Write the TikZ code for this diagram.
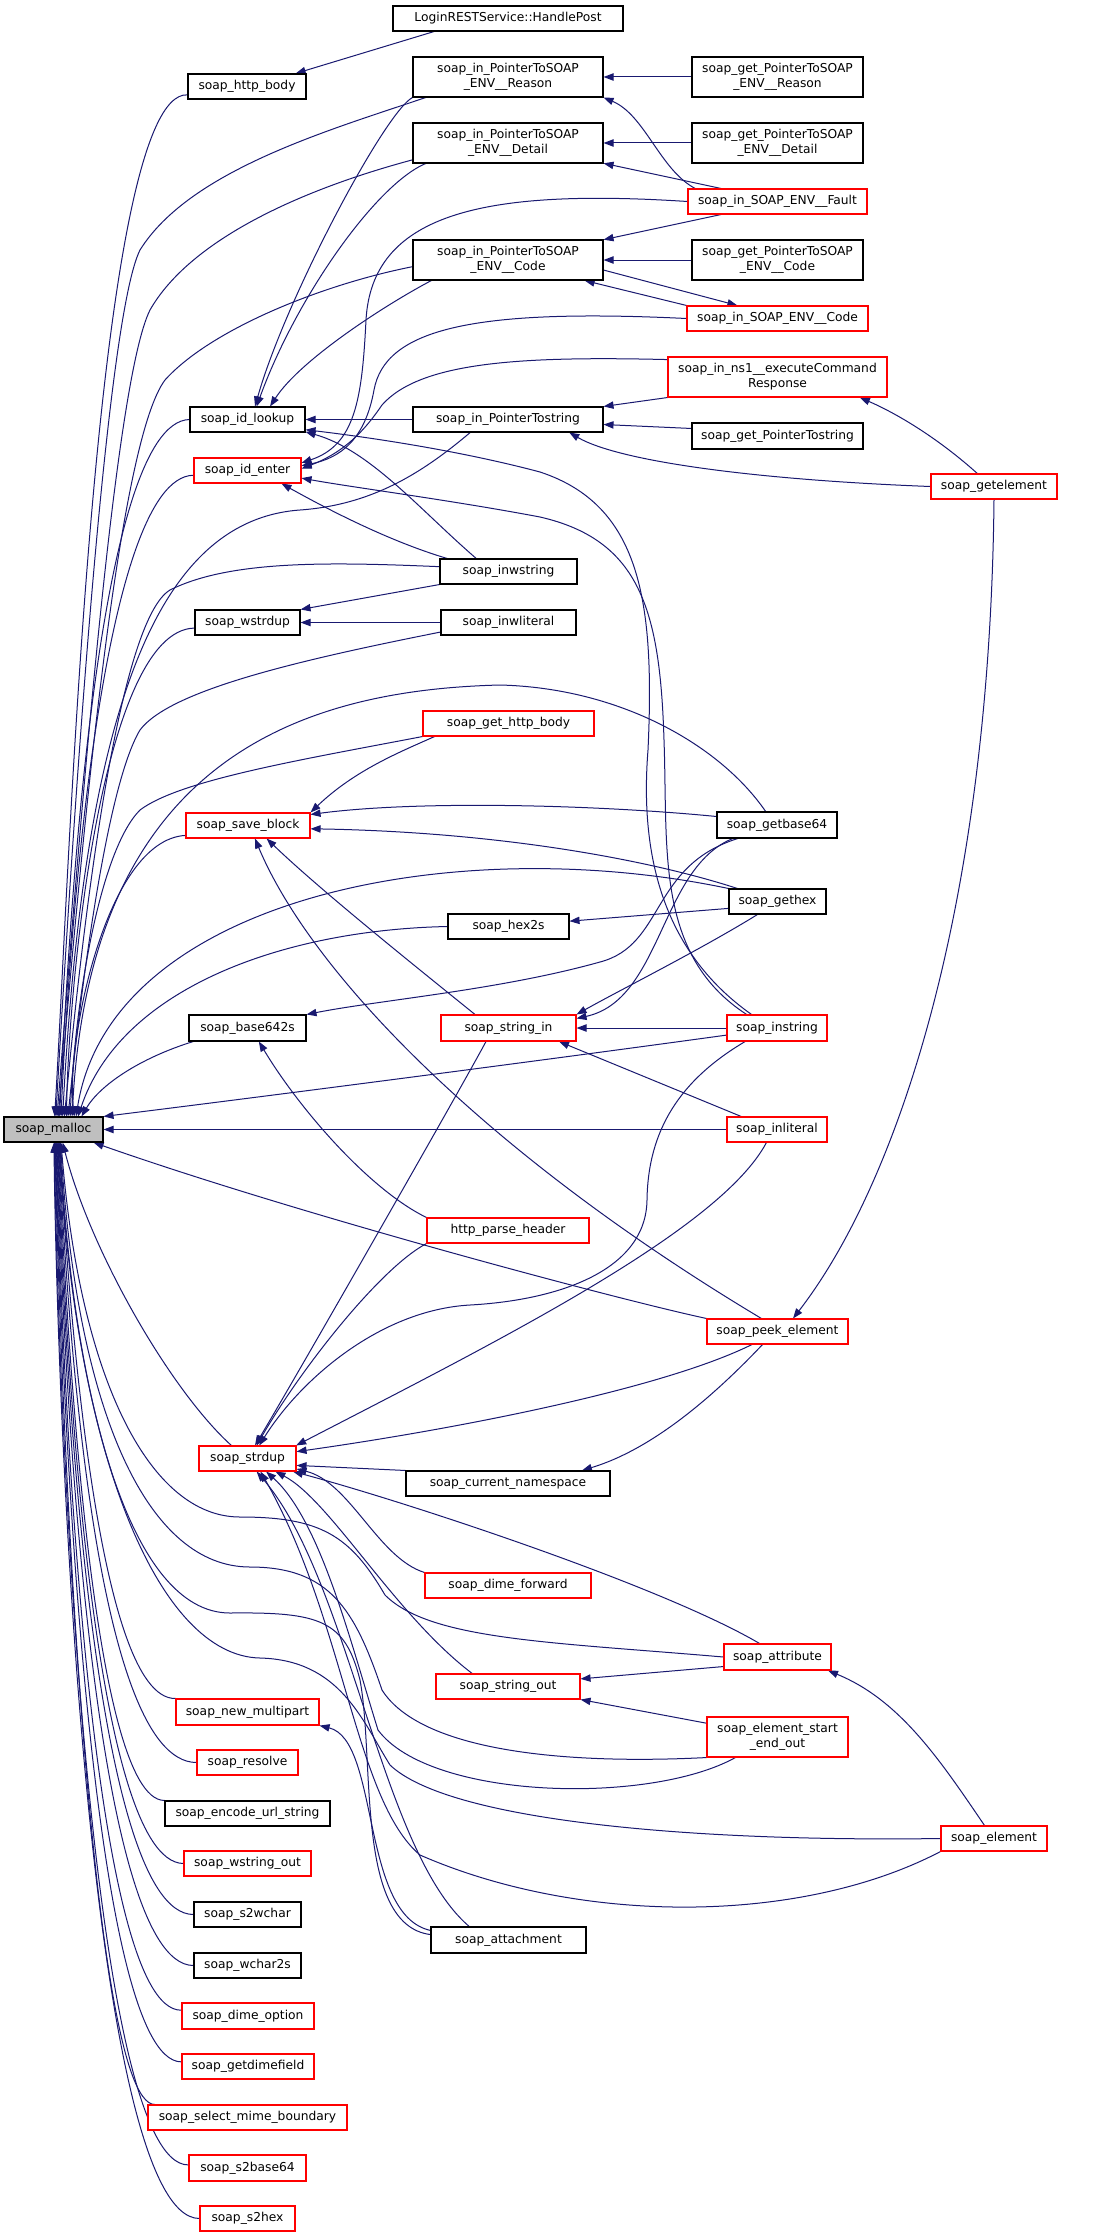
\documentclass[tikz,border=0pt]{standalone}
\usepackage{fontspec}
\setmainfont{DejaVu Sans}
\usetikzlibrary{arrows.meta}
\pgfdeclarelayer{bg}
\pgfsetlayers{bg,main}
\definecolor{edgec}{HTML}{191970}
\definecolor{nred}{HTML}{FF0000}
\definecolor{mgray}{HTML}{BFBFBF}
\tikzset{
 nb/.style={draw=black, fill=white, line width=0.8pt, inner sep=0pt, align=center, font=\fontsize{9.2}{11.25}\selectfont},
 nr/.style={nb, draw=nred},
 ng/.style={nb, fill=mgray},
 edg/.style={draw=edgec, line width=0.75pt, -{Triangle[length=7.5pt,width=5.5pt]}},
}
\newcommand\mkbox[7]{\node[#6, minimum width={(#4-#2)*0.75pt}, minimum height={(#5-#3)*0.75pt}] (#1) at ({(#2+#4)/2},{(#3+#5)/2}) {#7};}
\begin{document}
\begin{tikzpicture}[x=0.75pt,y=-0.75pt]
\begin{pgfonlayer}{bg}
\fill[white] (0,0) rectangle (1099,2237);
\end{pgfonlayer}
\path[use as bounding box] (0,0) rectangle (1099,2237);
\mkbox{hp}{393}{6}{623}{31}{nb}{LoginRESTService::HandlePost}
\mkbox{hb}{188}{74}{306}{99}{nb}{soap\_http\_body}
\mkbox{ir}{413}{57}{603}{97}{nb}{soap\_in\_PointerToSOAP\\\_ENV\_\_Reason}
\mkbox{idt}{413}{123}{603}{163}{nb}{soap\_in\_PointerToSOAP\\\_ENV\_\_Detail}
\mkbox{ic}{413}{240}{603}{280}{nb}{soap\_in\_PointerToSOAP\\\_ENV\_\_Code}
\mkbox{gr}{692}{57}{863}{97}{nb}{soap\_get\_PointerToSOAP\\\_ENV\_\_Reason}
\mkbox{gd}{692}{123}{863}{163}{nb}{soap\_get\_PointerToSOAP\\\_ENV\_\_Detail}
\mkbox{flt}{688}{189}{867}{214}{nr}{soap\_in\_SOAP\_ENV\_\_Fault}
\mkbox{gc}{692}{240}{863}{280}{nb}{soap\_get\_PointerToSOAP\\\_ENV\_\_Code}
\mkbox{isc}{687}{306}{868}{331}{nr}{soap\_in\_SOAP\_ENV\_\_Code}
\mkbox{ns1}{668}{357}{887}{397}{nr}{soap\_in\_ns1\_\_executeCommand\\Response}
\mkbox{il}{190}{407}{305}{432}{nb}{soap\_id\_lookup}
\mkbox{ie}{194}{458}{301}{483}{nr}{soap\_id\_enter}
\mkbox{ips}{413}{407}{603}{432}{nb}{soap\_in\_PointerTostring}
\mkbox{gps}{692}{423}{863}{449}{nb}{soap\_get\_PointerTostring}
\mkbox{gel}{931}{474}{1057}{499}{nr}{soap\_getelement}
\mkbox{iws}{440}{559}{577}{584}{nb}{soap\_inwstring}
\mkbox{wsd}{195}{610}{300}{635}{nb}{soap\_wstrdup}
\mkbox{iwl}{441}{610}{576}{635}{nb}{soap\_inwliteral}
\mkbox{ghb}{423}{711}{594}{736}{nr}{soap\_get\_http\_body}
\mkbox{sb}{186}{813}{310}{838}{nr}{soap\_save\_block}
\mkbox{gb64}{717}{812}{837}{838}{nb}{soap\_getbase64}
\mkbox{ghx}{729}{889}{826}{914}{nb}{soap\_gethex}
\mkbox{h2s}{448}{914}{569}{939}{nb}{soap\_hex2s}
\mkbox{b642s}{189}{1015}{306}{1041}{nb}{soap\_base642s}
\mkbox{sin}{441}{1015}{576}{1041}{nr}{soap\_string\_in}
\mkbox{ist}{727}{1015}{827}{1041}{nr}{soap\_instring}
\mkbox{M}{4}{1117}{103}{1142}{ng}{soap\_malloc}
\mkbox{ilt}{727}{1117}{827}{1142}{nr}{soap\_inliteral}
\mkbox{hph}{427}{1218}{589}{1243}{nr}{http\_parse\_header}
\mkbox{pe}{707}{1319}{848}{1344}{nr}{soap\_peek\_element}
\mkbox{sd}{199}{1446}{296}{1471}{nr}{soap\_strdup}
\mkbox{cn}{406}{1471}{610}{1496}{nb}{soap\_current\_namespace}
\mkbox{df}{425}{1573}{591}{1598}{nr}{soap\_dime\_forward}
\mkbox{att}{724}{1644}{831}{1670}{nr}{soap\_attribute}
\mkbox{so}{436}{1674}{580}{1699}{nr}{soap\_string\_out}
\mkbox{nm}{176}{1699}{319}{1725}{nr}{soap\_new\_multipart}
\mkbox{ese}{707}{1717}{848}{1757}{nr}{soap\_element\_start\\\_end\_out}
\mkbox{rs}{197}{1750}{298}{1775}{nr}{soap\_resolve}
\mkbox{eus}{165}{1801}{330}{1826}{nb}{soap\_encode\_url\_string}
\mkbox{el}{941}{1826}{1047}{1851}{nr}{soap\_element}
\mkbox{wso}{184}{1851}{311}{1876}{nr}{soap\_wstring\_out}
\mkbox{s2w}{194}{1902}{301}{1927}{nb}{soap\_s2wchar}
\mkbox{ach}{431}{1927}{586}{1953}{nb}{soap\_attachment}
\mkbox{w2s}{194}{1953}{301}{1978}{nb}{soap\_wchar2s}
\mkbox{dop}{182}{2003}{314}{2029}{nr}{soap\_dime\_option}
\mkbox{gdf}{182}{2054}{314}{2079}{nr}{soap\_getdimefield}
\mkbox{smb}{148}{2105}{347}{2130}{nr}{soap\_select\_mime\_boundary}
\mkbox{s2b}{189}{2155}{306}{2181}{nr}{soap\_s2base64}
\mkbox{s2h}{200}{2206}{295}{2231}{nr}{soap\_s2hex}
\begin{pgfonlayer}{bg}
\draw[edg] (hp.190) -- (hb.15);
\draw[edg] (gr.west) -- (ir.east);
\draw[edg] (gd.west) -- (idt.east);
\draw[edg] (gc.west) -- (ic.east);
\draw[edg] (flt.171) .. controls (660,170) and (645,115) .. (ir.south east);
\draw[edg] (flt.167) -- (idt.-12);
\draw[edg] (flt.193) -- (ic.12);
\draw[edg] (ic.-6) -- (isc.162);
\draw[edg] (isc.north west) -- (ic.-15);
\draw[edg] (flt.west) .. controls (480,188) and (372,215) .. (366,320) .. controls (362,400) and (355,445) .. (ie.8);
\draw[edg] (isc.west) .. controls (470,308) and (385,330) .. (374,390) .. controls (365,440) and (340,458) .. (ie.5);
\draw[edg] (ns1.171) .. controls (520,356) and (420,362) .. (382,405) .. controls (365,430) and (345,452) .. (ie.2);
\draw[edg] (ns1.south west) -- (ips.north east);
\draw[edg] (gps.175) -- (ips.-3);
\draw[edg] (gel.west) .. controls (760,480) and (620,462) .. (ips.-12);
\draw[edg] (gel.142) .. controls (940,440) and (900,415) .. (ns1.-14);
\draw[edg] (gel.south) .. controls (990,900) and (900,1180) .. (pe.40);
\draw[edg] (ips.west) -- (il.east);
\draw[edg] (ir.south west) .. controls (385,112) and (285,300) .. (il.60);
\draw[edg] (idt.194) .. controls (375,185) and (295,300) .. (il.55);
\draw[edg] (ic.195) .. controls (385,305) and (300,360) .. (il.30);
\draw[edg] (iws.158) .. controls (420,510) and (370,450) .. (il.-12);
\draw[edg] (iws.168) .. controls (385,540) and (320,505) .. (ie.-21);
\draw[edg] (iws.south west) -- (wsd.north east);
\draw[edg] (iwl.west) -- (wsd.east);
\draw[edg] (ist.152) .. controls (660,950) and (640,850) .. (648,750) .. controls (655,600) and (640,505) .. (540,472) .. controls (450,448) and (350,435) .. (il.-10);
\draw[edg] (ist.156) .. controls (655,955) and (668,850) .. (664,740) .. controls (660,610) and (640,540) .. (540,517) .. controls (450,500) and (350,487) .. (ie.-8);
\draw[edg] (gb64.172) .. controls (600,805) and (420,800) .. (sb.10);
\draw[edg] (ghx.162) .. controls (650,860) and (500,832) .. (sb.-3);
\draw[edg] (ghx.188) -- (h2s.5);
\draw[edg] (ghx.213) .. controls (700,950) and (620,990) .. (sin.north east);
\draw[edg] (gb64.197) .. controls (660,868) and (662,1000) .. (sin.8);
\draw[edg] (gb64.199) .. controls (650,866) and (665,945) .. (600,962) .. controls (500,990) and (380,1000) .. (b642s.north east);
\draw[edg] (ghb.190) .. controls (400,752) and (355,770) .. (sb.north east);
\draw[edg] (pe.141) .. controls (480,1150) and (310,970) .. (sb.-62);
\draw[edg] (sin.158) .. controls (420,970) and (320,890) .. (sb.-35);
\draw[edg] (sin.211) .. controls (460,1090) and (300,1370) .. (sd.60);
\draw[edg] (hph.north west) .. controls (370,1190) and (300,1110) .. (b642s.-50);
\draw[edg] (hph.south west) .. controls (380,1268) and (300,1370) .. (sd.55);
\draw[edg] (ist.203) .. controls (680,1080) and (648,1130) .. (647,1200) .. controls (646,1270) and (560,1300) .. (470,1305) .. controls (380,1310) and (300,1380) .. (sd.48);
\draw[edg] (ilt.231) .. controls (720,1230) and (500,1340) .. (sd.15);
\draw[edg] (pe.207) .. controls (660,1390) and (450,1430) .. (sd.8);
\draw[edg] (pe.221) .. controls (710,1400) and (650,1450) .. (cn.10);
\draw[edg] (cn.north west) -- (sd.-8);
\draw[edg] (ilt.160) -- (sin.-15);
\draw[edg] (ist.west) -- (sin.east);
\draw[edg] (att.190) -- (so.6);
\draw[edg] (ese.169) -- (so.south east);
\draw[edg] (el.126) .. controls (940,1760) and (900,1700) .. (att.-15);
\draw[edg] (att.143) .. controls (660,1585) and (400,1500) .. (sd.-16);
\draw[edg] (ese.206) .. controls (650,1805) and (430,1800) .. (378,1730) .. controls (350,1640) and (320,1520) .. (sd.-35);
\draw[edg] (el.south west) .. controls (800,1925) and (580,1925) .. (420,1855) .. controls (355,1800) and (345,1620) .. (sd.-45);
\draw[edg] (ach.161) .. controls (380,1850) and (350,1580) .. (sd.-55);
\draw[edg] (ach.173) .. controls (360,1915) and (380,1740) .. (nm.south east);
\draw[edg] (df.north west) .. controls (378,1558) and (350,1482) .. (sd.-12);
\draw[edg] (so.160) .. controls (395,1615) and (330,1500) .. (sd.-25);
\draw[edg] (hb.188) .. controls (95,90) and (70,860) .. (M.85);
\draw[edg] (ir.194) .. controls (330,130) and (190,170) .. (140,250) .. controls (110,310) and (80,700) .. (M.80);
\draw[edg] (idt.190) .. controls (300,190) and (190,240) .. (150,310) .. controls (115,380) and (82,800) .. (M.75);
\draw[edg] (ic.184) .. controls (320,285) and (210,330) .. (165,380) .. controls (120,440) and (85,800) .. (M.70);
\draw[edg] (il.west) .. controls (95,422) and (68,943) .. (M.65);
\draw[edg] (ie.185) .. controls (100,477) and (68,955) .. (M.60);
\draw[edg] (ips.199) .. controls (420,475) and (370,505) .. (300,510) .. controls (160,520) and (85,700) .. (M.55);
\draw[edg] (iws.176) .. controls (330,562) and (230,560) .. (170,590) .. controls (120,620) and (85,900) .. (M.50);
\draw[edg] (wsd.186) .. controls (100,630) and (68,995) .. (M.45);
\draw[edg] (iwl.188) .. controls (300,660) and (170,690) .. (140,730) .. controls (110,780) and (85,950) .. (M.42);
\draw[edg] (ghb.south west) .. controls (300,760) and (180,780) .. (140,810) .. controls (100,850) and (75,1000) .. (M.38);
\draw[edg] (gb64.130) .. controls (720,745) and (620,688) .. (500,685) .. controls (300,690) and (90,760) .. (M.35);
\draw[edg] (sb.189) .. controls (105,840) and (66,1045) .. (M.32);
\draw[edg] (ghx.north west) .. controls (450,830) and (110,900) .. (M.30);
\draw[edg] (h2s.west) .. controls (280,930) and (120,990) .. (M.28);
\draw[edg] (b642s.194) .. controls (140,1058) and (100,1085) .. (M.25);
\draw[edg] (ist.188) .. controls (560,1058) and (300,1092) .. (M.north east);
\draw[edg] (ilt.west) -- (M.east);
\draw[edg] (pe.north west) .. controls (620,1300) and (300,1215) .. (M.-18);
\draw[edg] (sd.141) .. controls (170,1390) and (90,1250) .. (M.-55);
\draw[edg] (att.west) .. controls (550,1642) and (430,1640) .. (385,1595) .. controls (350,1535) and (320,1517) .. (240,1517) .. controls (150,1517) and (80,1380) .. (M.-60);
\draw[edg] (ese.south west) .. controls (560,1765) and (420,1750) .. (382,1690) .. controls (355,1610) and (330,1567) .. (250,1567) .. controls (150,1567) and (78,1420) .. (M.-62);
\draw[edg] (ach.176) .. controls (355,1925) and (375,1760) .. (360,1680) .. controls (345,1620) and (320,1612) .. (230,1613) .. controls (130,1613) and (74,1400) .. (M.-64);
\draw[edg] (el.west) .. controls (700,1842) and (450,1822) .. (390,1765) .. controls (362,1720) and (340,1660) .. (260,1658) .. controls (160,1656) and (76,1460) .. (M.-66);
\draw[edg] (nm.north west) .. controls (95,1700) and (68,1282) .. (M.-68);
\draw[edg] (rs.west) .. controls (92,1762) and (67,1297) .. (M.-70);
\draw[edg] (eus.north west) .. controls (90,1800) and (66,1306) .. (M.-72);
\draw[edg] (wso.west) .. controls (90,1862) and (65,1322) .. (M.-74);
\draw[edg] (s2w.west) .. controls (90,1914) and (64,1335) .. (M.-76);
\draw[edg] (w2s.west) .. controls (90,1965) and (63,1348) .. (M.-78);
\draw[edg] (dop.175) .. controls (88,2012) and (62,1360) .. (M.-80);
\draw[edg] (gdf.176) .. controls (88,2062) and (61,1372) .. (M.-82);
\draw[edg] (smb.172) .. controls (88,2104) and (60,1385) .. (M.-84);
\draw[edg] (s2b.177) .. controls (88,2166) and (58,1398) .. (M.-86);
\draw[edg] (s2h.west) .. controls (88,2218) and (57,1410) .. (M.-88);
\end{pgfonlayer}
\end{tikzpicture}
\end{document}
